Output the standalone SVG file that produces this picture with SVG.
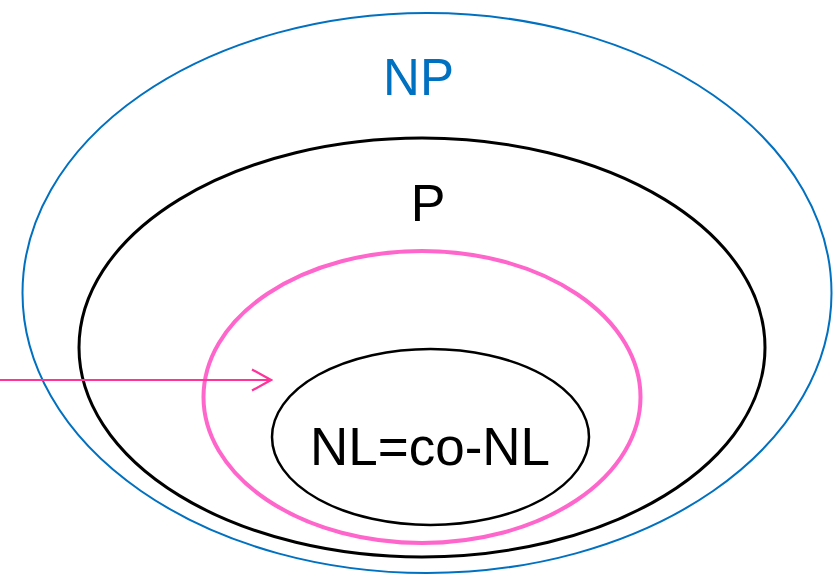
<svg xmlns="http://www.w3.org/2000/svg" width="840" height="576" viewBox="0 0 840 576">
  <defs>
    <style>
      .lbl { font-family: "Liberation Sans", Arial, sans-serif; }
    </style>
    <marker id="chev" viewBox="0 0 22 24" refX="20" refY="12" markerWidth="22" markerHeight="24" markerUnits="userSpaceOnUse" orient="auto">
      <path d="M1,1.5 L20,12 L1,22.5" fill="none" stroke="#FF3399" stroke-width="2.2"/>
    </marker>
  </defs>
  <rect width="840" height="576" fill="#ffffff"/>
  <g id="np">
    <ellipse cx="427" cy="293" rx="404.5" ry="280" fill="none" stroke="#0070C0" stroke-width="2"/>
    <text class="lbl" x="418.5" y="95" font-size="51" fill="#0070C0" text-anchor="middle">NP</text>
  </g>
  <g id="p">
    <ellipse cx="422" cy="347.5" rx="343" ry="209.5" fill="none" stroke="#000000" stroke-width="3"/>
    <text class="lbl" x="428" y="221" font-size="52" fill="#000000" text-anchor="middle">P</text>
  </g>
  <g id="pink">
    <ellipse cx="422" cy="397" rx="218.5" ry="146" fill="none" stroke="#FF66CC" stroke-width="4"/>
  </g>
  <g id="nl">
    <ellipse cx="430.5" cy="437" rx="158.5" ry="88" fill="none" stroke="#000000" stroke-width="2.5"/>
    <text class="lbl" x="310" y="465" font-size="54" fill="#000000" textLength="240" lengthAdjust="spacingAndGlyphs">NL=co-NL</text>
  </g>
  <g id="connectors">
    <line x1="0" y1="380" x2="271" y2="380" stroke="#FF3399" stroke-width="2" marker-end="url(#chev)"/>
  </g>
</svg>
